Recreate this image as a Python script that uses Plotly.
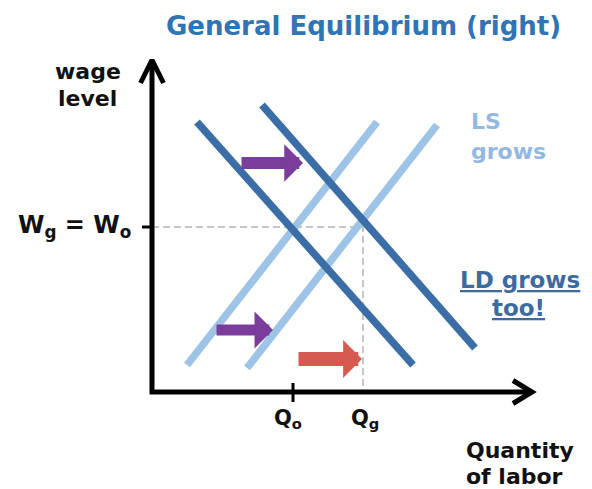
import plotly.graph_objects as go

# ---- data (economic units; origin at the axes' corner) ----
ld1_x = [4.5, 26.1]
ld1_y = [27.0, 2.7]
ld2_x = [11.0, 32.3]
ld2_y = [28.7, 4.4]
ls1_x = [3.5, 22.5]
ls1_y = [2.7, 27.0]
ls2_x = [9.5, 28.5]
ls2_y = [2.4, 26.7]

w_eq = 16.5      # W_g = W_o
q_o = 14.1       # Q_o
q_g = 21.1       # Q_g

x_axis_end = 38.0
y_axis_end = 33.2

# shift arrows: (tail_x, tip_x, y)
shift_purple_top = (8.8, 15.1, 22.9)
shift_purple_low = (6.3, 12.1, 6.2)
shift_red = (14.5, 21.0, 3.3)

title_text = "General Equilibrium (right)"
y_label = ["wage", "level"]
x_label = ["Quantity", "of labor"]
ls_label = ["LS", "grows"]
ld_label = ["LD grows", "too!"]
w_label = "W<sub>g</sub> = W<sub>o</sub>"
q_labels = ["Q<sub>o</sub>", "Q<sub>g</sub>"]

DARK = "#3b6ea6"
LIGHT = "#9dc3e6"
PURPLE = "#7a3d9c"
RED = "#d65a52"
TITLE = "#2f74b5"
LS_TXT = "#93b8e2"
LD_TXT = "#3d6b9f"
FONT = "DejaVu Sans"

fig = go.Figure()

# dashed guides
fig.add_trace(go.Scatter(x=[0, q_g, q_g], y=[w_eq, w_eq, 0], mode="lines",
                         line=dict(color="#c6c6c6", width=2, dash="7px,4px"),
                         hoverinfo="skip", showlegend=False))

# supply / demand lines
for xs, ys, c in [(ls1_x, ls1_y, LIGHT), (ls2_x, ls2_y, LIGHT),
                  (ld1_x, ld1_y, DARK), (ld2_x, ld2_y, DARK)]:
    fig.add_trace(go.Scatter(x=xs, y=ys, mode="lines",
                             line=dict(color=c, width=7.5),
                             hoverinfo="skip", showlegend=False))

# axes
fig.add_trace(go.Scatter(x=[0, 0, x_axis_end], y=[y_axis_end, 0, 0], mode="lines",
                         line=dict(color="black", width=5),
                         hoverinfo="skip", showlegend=False))
# arrow chevrons
fig.add_trace(go.Scatter(x=[-1.15, 0, 1.15], y=[y_axis_end - 2.3, y_axis_end, y_axis_end - 2.3],
                         mode="lines", line=dict(color="black", width=5),
                         hoverinfo="skip", showlegend=False))
fig.add_trace(go.Scatter(x=[x_axis_end - 1.9, x_axis_end, x_axis_end - 1.9], y=[1.15, 0, -1.15],
                         mode="lines", line=dict(color="black", width=5),
                         hoverinfo="skip", showlegend=False))
# ticks
fig.add_trace(go.Scatter(x=[-1.0, 0], y=[w_eq, w_eq], mode="lines",
                         line=dict(color="black", width=3), hoverinfo="skip", showlegend=False))
fig.add_trace(go.Scatter(x=[q_o, q_o], y=[0.9, -1.0], mode="lines",
                         line=dict(color="black", width=3), hoverinfo="skip", showlegend=False))

# shift arrows
for (tx, hx, yy), col, wdt, sz in [(shift_purple_top, PURPLE, 12, 0.52),
                                   (shift_purple_low, PURPLE, 11, 0.56),
                                   (shift_red, RED, 14, 0.45)]:
    fig.add_annotation(x=hx, y=yy, ax=tx, ay=yy, xref="x", yref="y", axref="x", ayref="y",
                       text="", showarrow=True, arrowhead=1, arrowsize=sz, arrowwidth=wdt,
                       arrowcolor=col, standoff=0)

def label(text, x, y, size, color, xanchor="center", under=False):
    f = dict(family=FONT, size=size, color=color, weight="bold")
    if under:
        f["lineposition"] = "under"
    fig.add_annotation(x=x, y=y, xref="x", yref="y", text=text, showarrow=False,
                       font=f, xanchor=xanchor, yanchor="middle", borderpad=0)

label(title_text, 21.1, 36.6, 26, TITLE)
label(y_label[0], -6.4, 32.06, 22, "#111111")
label(y_label[1], -6.5, 29.36, 22, "#111111")
label(w_label, -2.0, 16.6, 24, "#111111", xanchor="right")
label(q_labels[0], q_o - 0.5, -2.7, 21, "#111111")
label(q_labels[1], q_g + 0.2, -2.7, 21, "#111111")
label(ls_label[0], 31.8, 27.06, 22, LS_TXT, xanchor="left")
label(ls_label[1], 31.8, 24.06, 22, LS_TXT, xanchor="left")
label(ld_label[0], 36.75, 11.2, 23, LD_TXT, under=True)
label(ld_label[1], 36.65, 8.4, 23, LD_TXT, under=True)
label(x_label[0], 31.3, -5.84, 22, "#111111", xanchor="left")
label(x_label[1], 31.3, -8.44, 22, "#111111", xanchor="left")

fig.update_layout(
    width=592, height=489,
    margin=dict(l=0, r=0, t=0, b=0),
    paper_bgcolor="white", plot_bgcolor="white",
    xaxis=dict(range=[-15.2, 44.0], visible=False, fixedrange=True),
    yaxis=dict(range=[-9.7, 39.2], visible=False, fixedrange=True),
    showlegend=False,
)

fig.write_html("out.html", config={"displayModeBar": False},
               post_script="document.body.style.margin='0';document.body.style.overflow='hidden';")
